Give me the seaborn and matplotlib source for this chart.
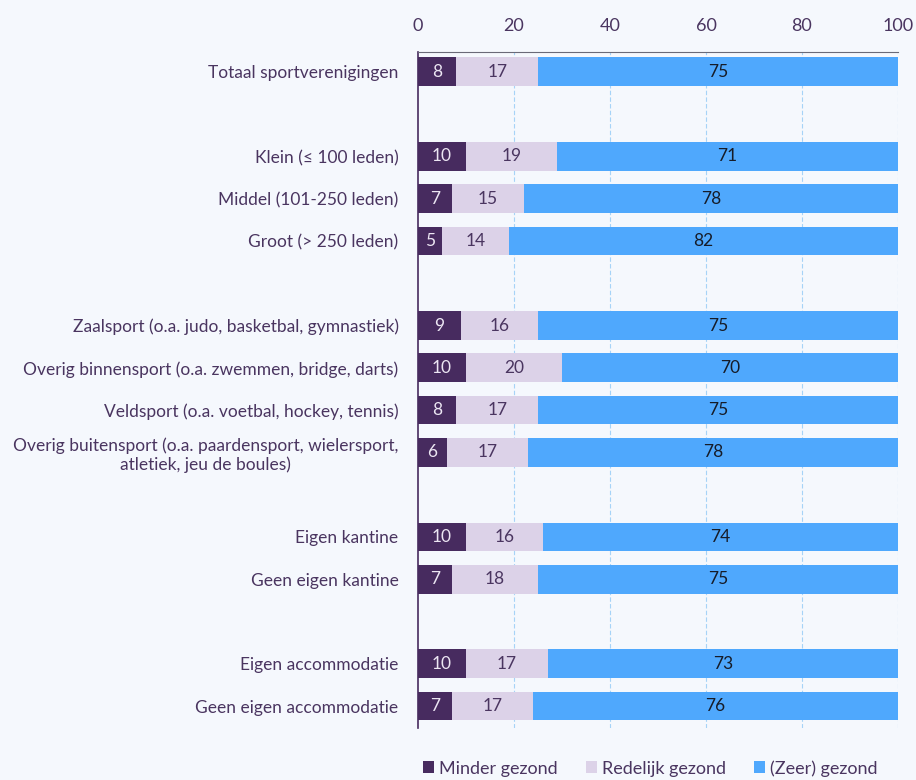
import numpy             as np
import matplotlib.pyplot as plt
import pandas            as pd
import seaborn           as sns
from matplotlib.patches import Patch

## Data
categories = ['Totaal sportverenigingen',
              '',
              'Klein (≤ 100 leden)',
              'Middel (101-250 leden)',
              'Groot (> 250 leden)',
              ' ',
              'Zaalsport (o.a. judo, basketbal, gymnastiek)',
              'Overig binnensport (o.a. zwemmen, bridge, darts)',
              'Veldsport (o.a. voetbal, hockey, tennis)',
              'Overig buitensport (o.a. paardensport, wielersport,\natletiek, jeu de boules)',
              '  ',
              'Eigen kantine',
              'Geen eigen kantine',
              '   ',
              'Eigen accommodatie',
              'Geen eigen accommodatie']
minder    = [8, None, 10, 7, 5, None, 9, 10, 8, 6, None, 10, 7, None, 10, 7]
redelijk  = [17, None, 19, 15, 14, None, 16, 20, 17, 17, None, 16, 18, None, 17, 17]
zeer      = [75, None, 71, 78, 82, None, 75, 70, 75, 78, None, 74, 75, None, 73, 76]
series    = ['Minder gezond', 'Redelijk gezond', '(Zeer) gezond']

c_dark  = '#472b5f'
c_light = '#dcd2e8'
c_blue  = '#4fa8fd'
c_text  = '#4a3560'
bg      = '#f5f8fd'

df = pd.DataFrame({'cat': categories, 'minder': minder,
                   'redelijk': redelijk, 'zeer': zeer})
df['cum1'] = df['minder']
df['cum2'] = df['minder'] + df['redelijk']
df['cum3'] = df['cum2'] + df['zeer']
dd = df.dropna()

sns.set_style('white')
plt.rcParams['font.family'] = ['Lato', 'DejaVu Sans']

fig = plt.figure(figsize = (9.16, 7.8), dpi = 100, facecolor = bg)
ax = fig.add_axes([418/916, 1 - 728/780, 480/916, 676/780])
ax.set_facecolor(bg)

# stacked: draw cumulative totals back to front
for col, c in [('cum3', c_blue), ('cum2', c_light), ('cum1', c_dark)]:
    sns.barplot(data = dd, x = col, y = 'cat', order = categories, color = c,
                width = 0.68, orient = 'h', ax = ax, saturation = 1,
                linewidth = 0, zorder = 2)

ax.set_xlim(0, 100)
ax.set_ylim(15.52, -0.47)

# labels in segments
fs = 12.5
for i, row in df.iterrows():
    if pd.isna(row['minder']):
        continue
    ax.text(row['minder'] / 2, i, f"{int(row['minder'])}", ha = 'center', va = 'center',
            color = '#ece6f3', fontsize = fs, zorder = 5)
    ax.text(row['cum1'] + row['redelijk'] / 2, i, f"{int(row['redelijk'])}", ha = 'center',
            va = 'center', color = c_text, fontsize = fs, zorder = 5)
    ax.text(row['cum2'] + (100 - row['cum2']) / 2, i, f"{int(row['zeer'])}", ha = 'center',
            va = 'center', color = '#161c28', fontsize = fs, zorder = 5)

# axes styling
ax.xaxis.tick_top()
ax.set_xticks([0, 20, 40, 60, 80, 100])
ax.tick_params(axis = 'x', length = 0, pad = 13, labelsize = 13, labelcolor = c_text)
ax.tick_params(axis = 'y', length = 0, pad = 14, labelsize = 12.5, labelcolor = c_text)
ax.set_yticks(range(len(categories)))
ax.set_yticklabels(categories, multialignment = 'center')
ax.set_xlabel('')
ax.set_ylabel('')
for x in [20, 40, 60, 80, 100]:
    ax.axvline(x, color = '#a6d3f7', lw = 0.8, ls = (0, (4, 2)), zorder = 1)

for s in ['right', 'bottom']:
    ax.spines[s].set_visible(False)
ax.spines['top'].set_color('#6a6a78')
ax.spines['top'].set_linewidth(0.8)
ax.spines['left'].set_color(c_dark)
ax.spines['left'].set_linewidth(1.2)

handles = [Patch(facecolor = c, edgecolor = 'none') for c in [c_dark, c_light, c_blue]]
leg = fig.legend(handles, series, loc = 'center', bbox_to_anchor = (0.71, 0.015),
                 ncol = 3, frameon = False, fontsize = 13, handlelength = 0.6,
                 handleheight = 0.6, handletextpad = 0.25, columnspacing = 1.6)
for t in leg.get_texts():
    t.set_color(c_text)

fig.savefig('out.png', dpi = 100, facecolor = bg)
